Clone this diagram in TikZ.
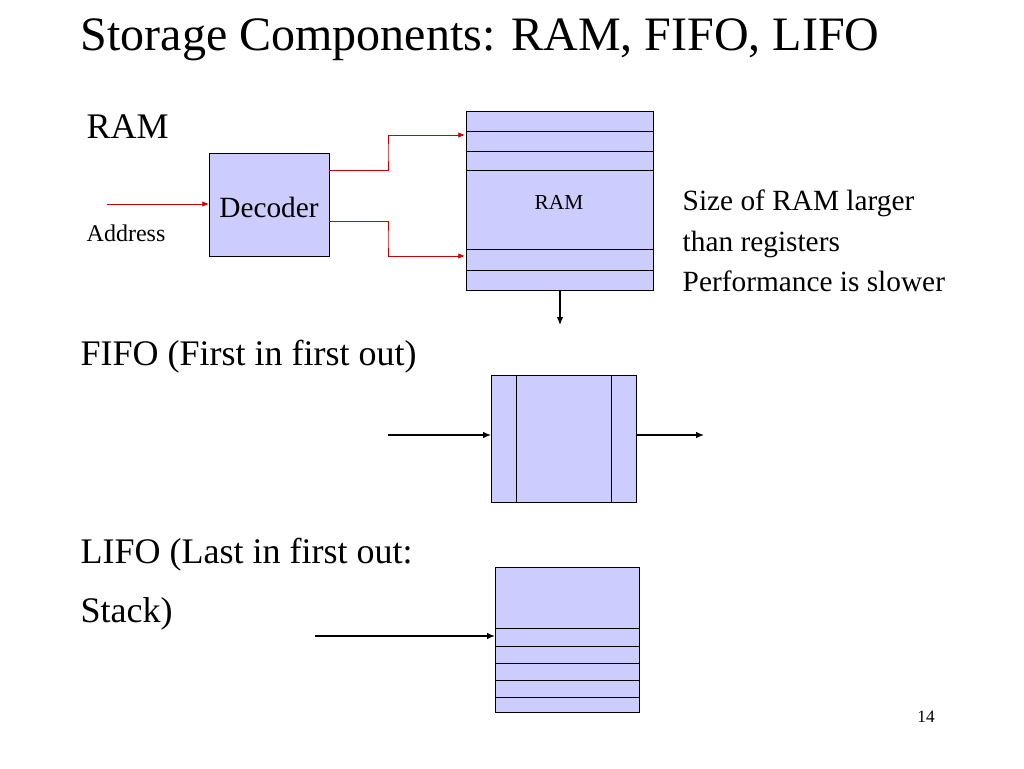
\documentclass[tikz,border=0pt]{standalone}
\usepackage{fontspec}
\setmainfont{Liberation Serif}
\usetikzlibrary{arrows.meta}
\definecolor{boxfill}{RGB}{204,204,255}
\definecolor{wirered}{RGB}{200,0,0}
\tikzset{
  block/.style = {draw, fill=boxfill, line width=0.6pt},
  wire/.style = {wirered, line width=0.6pt, -{Latex[length=5pt,width=4pt]}},
  flow/.style = {black, line width=1pt, -{Latex[length=6pt,width=5pt]}}
}
\begin{document}
\begin{tikzpicture}[x=0.75pt, y=-0.75pt]
\useasboundingbox (0,0) rectangle (1024,768);
\node [anchor=west, font=\fontsize{36}{40}\selectfont] (title) at (76,40) {Storage Components: RAM, FIFO, LIFO};

% RAM
\node [anchor=west, font=\fontsize{27}{30}\selectfont] (ramhead) at (82,127) {RAM};
\node [anchor=west, font=\fontsize{18}{20}\selectfont] (addr) at (82,233) {Address};
\draw [block] (209,153) rectangle (329,256);
\node [font=\fontsize{22}{24}\selectfont] (dec) at (269,207) {Decoder};
\draw [block] (466,111) rectangle (653,290);
\foreach \y in {131,151,170,249,270}
  \draw (466,\y) -- (653,\y);
\node [font=\fontsize{16}{18}\selectfont] (ram) at (559,202) {RAM};
\coordinate (ain) at (107,204);
\coordinate (aout) at (209,204);
\draw [wire] (ain) -- (aout);
\coordinate (d1) at (329,170);
\coordinate (r1) at (465,135);
\coordinate (d2) at (329,221);
\coordinate (r2) at (465,256);
\draw [wire] (d1) -| (388,152) |- (r1);
\draw [wire] (d2) -| (388,240) |- (r2);
\coordinate (rb) at (560,290);
\coordinate (ro) at (560,325);
\draw [flow] (rb) -- (ro);
\node [anchor=west, align=left, font=\fontsize{22}{30.5}\selectfont] (note) at (678,241)
  {Size of RAM larger\\than registers\\Performance is slower};

% FIFO
\node [anchor=west, font=\fontsize{27}{30}\selectfont] (fifohead) at (76,357) {FIFO (First in first out)};
\draw [block] (491,375) rectangle (636,502);
\draw (516,375) -- (516,502) (611,375) -- (611,502);
\coordinate (fin) at (388,435);
\coordinate (fl) at (491,435);
\coordinate (fr) at (636,435);
\coordinate (fout) at (704,435);
\draw [flow] (fin) -- (fl);
\draw [flow] (fr) -- (fout);

% LIFO
\node [anchor=west, align=left, font=\fontsize{27}{44}\selectfont] (lifohead) at (76,584) {LIFO (Last in first out:\\Stack)};
\draw [block] (495,567) rectangle (639,712);
\foreach \y in {628,646,663,680,697}
  \draw (495,\y) -- (639,\y);
\coordinate (lin) at (315,636);
\coordinate (ll) at (495,636);
\draw [flow] (lin) -- (ll);

\node [font=\fontsize{13}{15}\selectfont] (page) at (926,717) {14};
\end{tikzpicture}
\end{document}
